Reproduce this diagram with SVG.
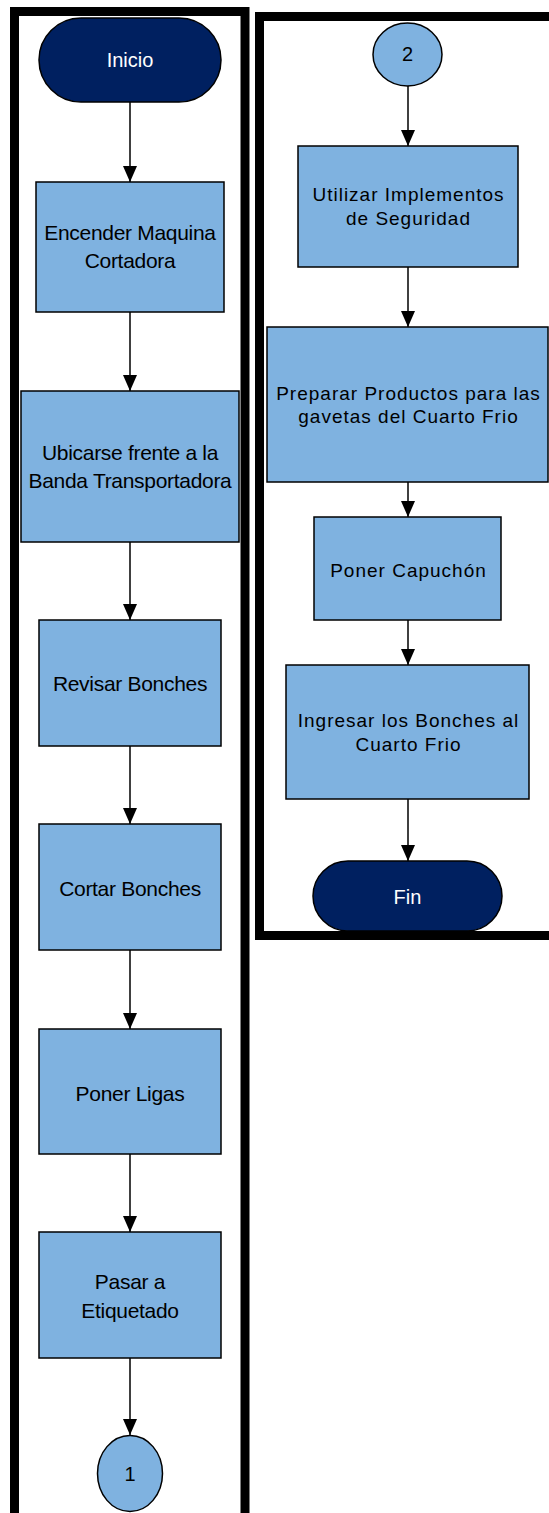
<svg xmlns="http://www.w3.org/2000/svg" width="549" height="1513" viewBox="0 0 549 1513">
<style>
.frame{fill:none;stroke:#000;stroke-width:9}
.box{fill:#7FB2E0;stroke:#000;stroke-width:1.5}
.term{fill:#002060;stroke:#000;stroke-width:1.5}
.ltxt{font-family:"Liberation Sans",Arial,sans-serif;font-size:21px;letter-spacing:-0.3px;fill:#000;text-anchor:middle}
.rtxt{font-family:"Liberation Sans",Arial,sans-serif;font-size:19px;letter-spacing:1px;fill:#000;text-anchor:middle}
.wtxt{font-family:"Liberation Sans",Arial,sans-serif;font-size:20px;fill:#fff;text-anchor:middle}
.ctxt{font-family:"Liberation Sans",Arial,sans-serif;font-size:20px;fill:#000;text-anchor:middle}
.conn line{stroke:#000;stroke-width:1.5;marker-end:url(#arr)}
</style>
<defs>
<marker id="arr" markerUnits="userSpaceOnUse" markerWidth="16" markerHeight="14" refX="16" refY="7" orient="auto" viewBox="0 0 16 14">
<path d="M0,0 L16,7 L0,14 Z" fill="#000"/>
</marker>
</defs>
<rect width="549" height="1513" fill="#fff"/>
<g id="frames">
<rect class="frame" x="14.5" y="11.5" width="230.5" height="1520"/>
<rect class="frame" x="259.5" y="16.5" width="310" height="919"/>
</g>
<g class="conn" id="connectors">
<line x1="130" y1="102" x2="130" y2="182"/>
<line x1="130" y1="312" x2="130" y2="391"/>
<line x1="130" y1="542" x2="130" y2="620"/>
<line x1="130" y1="746" x2="130" y2="824"/>
<line x1="130" y1="950" x2="130" y2="1029"/>
<line x1="130" y1="1154" x2="130" y2="1232"/>
<line x1="130" y1="1358" x2="130" y2="1435"/>
<line x1="408" y1="86" x2="408" y2="146"/>
<line x1="408" y1="267" x2="408" y2="327"/>
<line x1="408" y1="482" x2="408" y2="517"/>
<line x1="408" y1="620" x2="408" y2="665"/>
<line x1="408" y1="799" x2="408" y2="861"/>
</g>
<g id="inicio">
<rect class="term" x="39" y="18" width="182" height="84" rx="42"/>
<text class="wtxt" x="130" y="67">Inicio</text>
</g>
<g id="encender">
<rect class="box" x="36" y="182" width="188" height="130"/>
<text class="ltxt" x="130" y="240">Encender Maquina</text>
<text class="ltxt" x="130" y="268">Cortadora</text>
</g>
<g id="ubicarse">
<rect class="box" x="21" y="391" width="218" height="151"/>
<text class="ltxt" x="130" y="460">Ubicarse frente a la</text>
<text class="ltxt" x="130" y="488">Banda Transportadora</text>
</g>
<g id="revisar">
<rect class="box" x="39" y="620" width="182" height="126"/>
<text class="ltxt" x="130" y="691">Revisar Bonches</text>
</g>
<g id="cortar">
<rect class="box" x="39" y="824" width="182" height="126"/>
<text class="ltxt" x="130" y="896">Cortar Bonches</text>
</g>
<g id="ligas">
<rect class="box" x="39" y="1029" width="182" height="125"/>
<text class="ltxt" x="130" y="1101">Poner Ligas</text>
</g>
<g id="pasar">
<rect class="box" x="39" y="1232" width="182" height="126"/>
<text class="ltxt" x="130" y="1289">Pasar a</text>
<text class="ltxt" x="130" y="1318">Etiquetado</text>
</g>
<g id="c1">
<ellipse class="box" cx="130" cy="1473.5" rx="32.5" ry="38"/>
<text class="ctxt" x="130" y="1481">1</text>
</g>
<g id="c2">
<ellipse class="box" cx="407.5" cy="54.5" rx="34.5" ry="31.5"/>
<text class="ctxt" x="407.5" y="61">2</text>
</g>
<g id="utilizar">
<rect class="box" x="298" y="146" width="220" height="121"/>
<text class="rtxt" x="408.5" y="201">Utilizar Implementos</text>
<text class="rtxt" x="408.5" y="225">de Seguridad</text>
</g>
<g id="preparar">
<rect class="box" x="267" y="327" width="281" height="155"/>
<text class="rtxt" x="408.5" y="400">Preparar Productos para las</text>
<text class="rtxt" x="408.5" y="423">gavetas del Cuarto Frio</text>
</g>
<g id="capuchon">
<rect class="box" x="314" y="517" width="187" height="103"/>
<text class="rtxt" x="408.5" y="577">Poner Capuchón</text>
</g>
<g id="ingresar">
<rect class="box" x="286" y="665" width="243" height="134"/>
<text class="rtxt" x="408.5" y="727">Ingresar los Bonches al</text>
<text class="rtxt" x="408.5" y="751">Cuarto Frio</text>
</g>
<g id="fin">
<rect class="term" x="313" y="861" width="189" height="70" rx="35"/>
<text class="wtxt" x="407.5" y="904">Fin</text>
</g>
</svg>
